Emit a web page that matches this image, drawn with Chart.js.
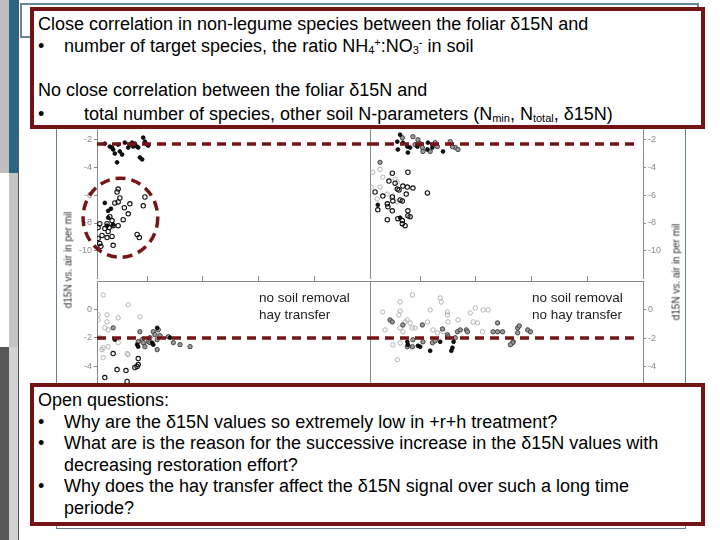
<!DOCTYPE html>
<html lang="en">
<head>
<meta charset="UTF-8">
<title>foliar d15N</title>
<script src="https://cdn.jsdelivr.net/npm/chart.js"></script>
<style>
  body { margin: 0; width: 720px; height: 540px; position: relative; overflow: hidden; background: #fff;
         font-family: "Liberation Sans", Arial, sans-serif; }
  .abs { position: absolute; }
  canvas { position: absolute; }
  .redbox { position: absolute; left: 30px; width: 667px; border: 4px solid #731313; background: #fff;
            font-size: 18px; color: #000; z-index: 5; box-sizing: content-box; overflow: hidden; }
  .redbox p { margin: 0; padding-left: 4px; white-space: nowrap; position: relative; }
  .redbox .b { position: absolute; left: 4px; }
  .note { position: absolute; font-size: 13.5px; line-height: 17px; color: #222; white-space: nowrap; }
  .ytitle { position: absolute; font-size: 10px; color: #333; white-space: nowrap;
            transform: translate(-50%, -50%) rotate(-90deg); z-index: 2; }
  sub { font-size: 11px; line-height: 0; vertical-align: -2px; }
  sup { font-size: 11px; line-height: 0; vertical-align: 6px; }
</style>
</head>
<body>

<!-- slide decoration on the left -->
<div class="abs" style="left:0;top:0;width:9px;height:173px;background:#bebebe"></div>
<div class="abs" style="left:9px;top:0;width:9px;height:173px;background:#2c6687"></div>
<div class="abs" style="left:9px;top:173px;width:9px;height:174px;background:#c4c4c4"></div>
<div class="abs" style="left:0;top:347px;width:9px;height:193px;background:#575757"></div>
<div class="abs" style="left:9px;top:347px;width:9px;height:193px;background:#d2d2d2"></div>
<div class="abs" style="left:18px;top:0;width:1px;height:540px;background:#555"></div>

<!-- title frame and chart frame -->
<div class="abs" style="left:20px;top:3px;width:675px;height:31px;border:2px solid #68889a"></div>
<div class="abs" style="left:56px;top:124px;width:628px;height:403px;border:1.5px solid #66808e"></div>

<canvas id="tl" width="310" height="180" style="left:70px;top:104px"></canvas>
<canvas id="tr" width="320" height="180" style="left:360px;top:104px"></canvas>
<canvas id="bl" width="310" height="130" style="left:70px;top:270px"></canvas>
<canvas id="br" width="320" height="130" style="left:360px;top:270px"></canvas>

<div class="ytitle" style="left:68px;top:260px">d15N vs. air in per mil</div>
<div class="ytitle" style="left:676px;top:272px">d15N vs. air in per mil</div>

<div class="note" style="left:259px;top:289px">no soil removal<br>hay transfer</div>
<div class="note" style="left:532px;top:289px">no soil removal<br>no hay transfer</div>

<div class="redbox" style="top:7px;height:112px;line-height:22px;padding-top:2px">
  <p>Close correlation in non-legume species between the foliar δ15N and</p>
  <p><span class="b">•</span><span style="padding-left:26px">number of target species, the ratio NH<sub>4</sub><sup>+</sup>:NO<sub>3</sub><sup>-</sup> in soil</span></p>
  <p>&nbsp;</p>
  <p>No close correlation between the foliar δ15N and</p>
  <p style="top:2px"><span class="b">•</span><span style="padding-left:46px">total number of species, other soil N-parameters (N<sub>min</sub>, N<sub>total</sub>, δ15N)</span></p>
</div>

<div class="redbox" style="top:383px;height:132px;line-height:21.6px;padding-top:3px">
  <p>Open questions:</p>
  <p><span class="b">•</span><span style="padding-left:26px">Why are the δ15N values so extremely low in +r+h treatment?</span></p>
  <p><span class="b">•</span><span style="padding-left:26px">What are is the reason for the successive increase in the δ15N values with</span></p>
  <p><span style="padding-left:26px">decreasing restoration effort?</span></p>
  <p><span class="b">•</span><span style="padding-left:26px">Why does the hay transfer affect the δ15N signal over such a long time</span></p>
  <p><span style="padding-left:26px">periode?</span></p>
</div>

<script>
// axis setup
const xMin = 0.1, xMax = 5.0;
const xTicks = [1, 2, 3, 4];
const topYRange = [-12, 0];
const bottomYRange = [-6, 2];
const topYTicks = [-2, -4, -6, -8, -10];
const bottomYTicks = [0, -2, -4, -6];

// reference levels (dashed lines) and circled group
const refTop = -2.35;
const refBottom = -2.0;
const refLeftX = [0.1, 5.0];
const refRightX = [0.1, 4.91];
const circleCenter = [0.52, -7.62];
const circleRadius = [0.67, 2.83];

// top-left: soil removal + hay transfer
const tlBlackFilled = [[0.24,-2.32],[0.33,-2.53],[0.39,-2.74],[0.42,-3.03],[0.48,-2.39],[0.51,-2.88],[0.55,-3.10],
  [0.60,-2.25],[0.66,-2.60],[0.73,-2.25],[0.75,-2.53],[0.78,-2.32],[0.84,-2.60],[0.87,-3.31],[0.91,-3.45],
  [0.93,-1.89],[0.96,-2.18],[1.00,-2.39],[1.02,-2.46],[0.46,-3.66],[0.69,-2.39],[0.82,-2.53],[0.37,-2.60],
  [0.24,-6.56],[0.30,-7.13],[0.30,-7.62],[0.28,-8.19],[0.35,-6.98],[0.39,-8.12]];
const tlBlackOpen = [[0.48,-5.57],[0.46,-5.78],[0.51,-6.21],[0.48,-6.49],[0.42,-6.56],[0.69,-6.63],[0.96,-6.14],
  [0.93,-6.77],[0.59,-6.91],[0.66,-7.34],[0.57,-7.76],[0.33,-7.55],[0.37,-7.83],[0.28,-8.05],[0.39,-8.19],
  [0.48,-8.19],[0.15,-8.05],[0.12,-8.33],[0.19,-8.89],[0.30,-8.61],[0.37,-8.96],[0.28,-9.04],[0.12,-9.11],
  [0.15,-9.46],[0.17,-9.67],[0.39,-9.60],[0.82,-8.82],[0.86,-9.04],[0.24,-8.40],[0.32,-8.33]];

// top-right: soil removal, no hay transfer
const trBlackFilled = [[0.64,-1.68],[0.59,-2.18],[0.60,-2.74],[0.77,-2.53],[0.82,-2.60],[0.78,-2.96],[0.95,-2.53],
  [1.13,-2.74],[1.14,-2.25],[1.22,-2.60],[1.41,-2.88],[0.69,-2.25],[0.24,-6.70],[0.64,-7.62]];
const trGrayFilled = [[0.68,-1.90],[0.87,-1.82],[0.96,-2.04],[0.91,-2.39],[1.04,-2.60],[1.05,-2.88],[1.18,-2.88],
  [1.23,-2.39],[1.27,-2.25],[1.54,-2.18],[1.63,-2.60],[1.68,-2.74],[1.31,-2.53],[1.58,-2.53],[1.00,-2.32],[0.28,-3.66]];
const trGrayOpen = [[0.15,-4.37],[0.28,-4.16],[0.33,-4.72],[0.55,-4.86],[0.59,-5.08],[0.28,-5.43],[0.12,-5.43],
  [0.23,-6.28],[0.41,-5.93],[0.51,-6.07],[0.59,-6.49],[0.42,-6.63]];
const trBlackOpen = [[0.50,-4.44],[0.78,-4.37],[0.44,-5.00],[0.55,-5.15],[0.69,-5.36],[0.59,-5.57],[0.62,-5.64],
  [0.77,-5.43],[0.87,-5.50],[0.75,-5.93],[1.13,-5.85],[0.19,-5.78],[0.33,-6.07],[0.50,-6.14],[0.51,-6.42],
  [0.64,-6.35],[0.68,-6.42],[0.41,-6.63],[0.42,-6.84],[0.50,-7.13],[0.24,-7.06],[0.41,-7.76],[0.60,-7.69],
  [0.68,-7.83],[0.68,-8.05],[0.73,-8.19],[0.78,-7.13],[0.78,-7.48],[0.82,-7.55]];

// bottom-left: no soil removal, hay transfer
const blGrayOpen = [[0.21,1.02],[0.66,0.32],[0.48,-0.59],[0.12,-0.38],[0.28,-0.38],[0.12,-0.73],[0.28,-0.87],
  [0.87,-0.52],[0.24,-1.29],[0.30,-1.43],[0.15,-1.98],[0.48,-2.33],[0.21,-2.68],[0.19,-2.82],[0.30,-2.61],
  [0.64,-3.10],[0.66,-3.17],[0.21,-3.38]];
const blGrayFilled = [[0.39,-1.29],[0.87,-1.56],[0.91,-2.12],[1.05,-1.98],[0.93,-2.33],[1.02,-2.26],[1.11,-1.56],
  [1.14,-1.77],[1.18,-2.12],[1.05,-2.33],[1.23,-1.84],[1.18,-2.82],[1.38,-1.91],[1.47,-2.33],[1.59,-2.47],
  [1.77,-2.61],[0.84,-2.26],[0.96,-2.61],[1.20,-1.43]];
const blBlackFilled = [[0.42,-2.12],[0.82,-2.47],[1.09,-2.33],[1.11,-2.47],[1.18,-1.29],[1.41,-1.98],[0.84,-2.61]];
const blBlackOpen = [[0.39,-3.10],[0.84,-3.45],[0.84,-3.87],[0.82,-4.01],[0.78,-4.08],[0.46,-4.22],[0.62,-4.29],
  [0.24,-4.78],[0.64,-5.06]];

// bottom-right: no soil removal, no hay transfer
const brGrayOpen = [[0.64,0.53],[0.86,1.02],[1.36,0.81],[1.38,0.53],[0.33,-0.17],[0.64,-0.10],[0.62,-0.38],
  [1.18,-0.03],[1.49,-0.17],[1.49,-0.38],[1.99,0.11],[1.90,-0.24],[2.13,-0.03],[2.22,-0.03],[0.73,-0.87],
  [0.82,-0.94],[0.77,-0.73],[1.13,-0.87],[1.50,-0.87],[1.68,-0.73],[1.95,-0.87],[2.03,-0.94],[0.37,-1.43],
  [0.64,-1.29],[0.86,-1.29],[0.91,-1.29],[1.23,-1.43],[1.31,-1.63],[2.12,-1.56],[0.51,-2.47],[0.64,-2.33],
  [0.59,-3.52],[1.41,-1.56],[0.69,-1.56]];
const brGrayFilled = [[0.46,-0.73],[0.50,-0.87],[0.69,-1.08],[1.04,-1.08],[1.40,-1.36],[1.49,-1.77],[1.67,-1.56],
  [1.72,-1.43],[1.83,-1.43],[1.85,-1.56],[2.39,-0.94],[2.31,-1.56],[2.39,-1.56],[2.48,-1.56],[2.75,-1.29],
  [2.78,-1.15],[2.93,-1.43],[2.98,-1.56],[2.75,-1.63],[2.67,-2.26],[2.66,-2.33],[2.62,-2.47],[0.77,-2.61],
  [0.86,-2.61],[1.05,-2.26],[1.22,-2.33],[1.27,-2.19],[1.63,-1.98],[0.87,-2.12],[1.50,-1.91]];
const brBlackFilled = [[0.77,-2.26],[0.78,-2.47],[0.96,-2.54],[1.00,-2.61],[1.18,-2.89],[1.36,-2.26],[1.58,-2.68],
  [1.56,-2.89],[1.60,-2.26]];

const FONT = '"Liberation Sans", Arial, sans-serif';
const RED = '#761515';
const AXIS = '#8a8a8a';

const pts = arr => arr.map(p => ({ x: p[0], y: p[1] }));
const zeroPad = s => { s.paddingTop = 0; s.paddingBottom = 0; s.paddingLeft = 0; s.paddingRight = 0; };

const styles = {
  blackFilled: { backgroundColor: '#111', borderColor: '#000', pointRadius: 1.9, pointBorderWidth: 0.8 },
  blackOpen:   { backgroundColor: 'rgba(255,255,255,0)', borderColor: '#111', pointRadius: 2.2, pointBorderWidth: 1.1 },
  grayFilled:  { backgroundColor: '#9a9a9a', borderColor: '#3a3a3a', pointRadius: 2.2, pointBorderWidth: 0.9 },
  grayOpen:    { backgroundColor: 'rgba(255,255,255,0)', borderColor: '#adadad', pointRadius: 2.2, pointBorderWidth: 0.9 }
};

function scatterSet(arr, kind) {
  return Object.assign({ type: 'scatter', data: pts(arr) }, styles[kind]);
}

function refLine(xs, level) {
  return {
    type: 'line', data: xs.map(x => ({ x: x, y: level })),
    borderColor: RED, borderWidth: 3.5, borderDash: [9, 6], pointRadius: 0, fill: false
  };
}

function yAxis(pos, range, ticks) {
  return {
    type: 'linear', position: pos, min: range[0], max: range[1],
    afterBuildTicks: s => { s.ticks = ticks.map(v => ({ value: v })); },
    ticks: { color: AXIS, font: { family: FONT, size: 9 }, padding: 2 },
    grid: { drawOnChartArea: false, tickLength: 3, color: AXIS },
    border: { color: AXIS, width: 1 },
    afterFit: s => { s.width = 22; zeroPad(s); }
  };
}

function xAxis(showTop) {
  if (!showTop) {
    return { type: 'linear', min: xMin, max: xMax, display: false, afterFit: zeroPad };
  }
  return {
    type: 'linear', position: 'top', min: xMin, max: xMax,
    afterBuildTicks: s => { s.ticks = xTicks.map(v => ({ value: v })); },
    ticks: { display: false },
    grid: { drawOnChartArea: false, tickLength: 5, color: AXIS },
    border: { color: AXIS, width: 1 },
    afterFit: s => { s.height = 5; zeroPad(s); }
  };
}

// thin separator on the left edge of the right-hand panels
function sepAxis(range) {
  return {
    type: 'linear', position: 'left', min: range[0], max: range[1],
    ticks: { display: false }, grid: { display: false },
    border: { display: true, color: AXIS, width: 1 },
    afterFit: s => { s.width = 0; zeroPad(s); }
  };
}

const ellipsePlugin = {
  id: 'dashedEllipse',
  afterDraw(chart) {
    const { ctx, scales } = chart;
    const cx = scales.x.getPixelForValue(circleCenter[0]);
    const cy = scales.y.getPixelForValue(circleCenter[1]);
    const rx = scales.x.getPixelForValue(circleCenter[0] + circleRadius[0]) - cx;
    const ry = cy - scales.y.getPixelForValue(circleCenter[1] + circleRadius[1]);
    ctx.save();
    ctx.strokeStyle = RED;
    ctx.lineWidth = 3.5;
    ctx.setLineDash([10, 6]);
    ctx.beginPath();
    ctx.ellipse(cx, cy, rx, ry, 0, 0, Math.PI * 2);
    ctx.stroke();
    ctx.restore();
  }
};

function makeChart(id, datasets, scales, padding, plugins) {
  return new Chart(document.getElementById(id), {
    data: { datasets: datasets },
    options: {
      responsive: false, animation: false,
      layout: { padding: padding },
      plugins: { legend: { display: false }, tooltip: { enabled: false } },
      scales: scales
    },
    plugins: plugins || []
  });
}

makeChart('tl', [
  refLine(refLeftX, refTop),
  scatterSet(tlBlackFilled, 'blackFilled'),
  scatterSet(tlBlackOpen, 'blackOpen')
], { x: xAxis(false), y: yAxis('left', topYRange, topYTicks) },
  { left: 5, right: 10, top: 7.2, bottom: 3 }, [ellipsePlugin]);

makeChart('tr', [
  refLine(refRightX, refTop),
  scatterSet(trBlackFilled, 'blackFilled'),
  scatterSet(trGrayFilled, 'grayFilled'),
  scatterSet(trBlackOpen, 'blackOpen'),
  scatterSet(trGrayOpen, 'grayOpen')
], { x: xAxis(false), y: yAxis('right', topYRange, topYTicks), yl: sepAxis(topYRange) },
  { left: 10, right: 15, top: 7.2, bottom: 3 });

makeChart('bl', [
  refLine(refLeftX, refBottom),
  scatterSet(blBlackFilled, 'blackFilled'),
  scatterSet(blGrayFilled, 'grayFilled'),
  scatterSet(blBlackOpen, 'blackOpen'),
  scatterSet(blGrayOpen, 'grayOpen')
], { x: xAxis(true), y: yAxis('left', bottomYRange, bottomYTicks) },
  { left: 5, right: 10, top: 6, bottom: 4.6 });

makeChart('br', [
  refLine(refRightX, refBottom),
  scatterSet(brBlackFilled, 'blackFilled'),
  scatterSet(brGrayFilled, 'grayFilled'),
  scatterSet(brGrayOpen, 'grayOpen')
], { x: xAxis(true), y: yAxis('right', bottomYRange, bottomYTicks), yl: sepAxis(bottomYRange) },
  { left: 10, right: 15, top: 6, bottom: 4.6 });
</script>
</body>
</html>
